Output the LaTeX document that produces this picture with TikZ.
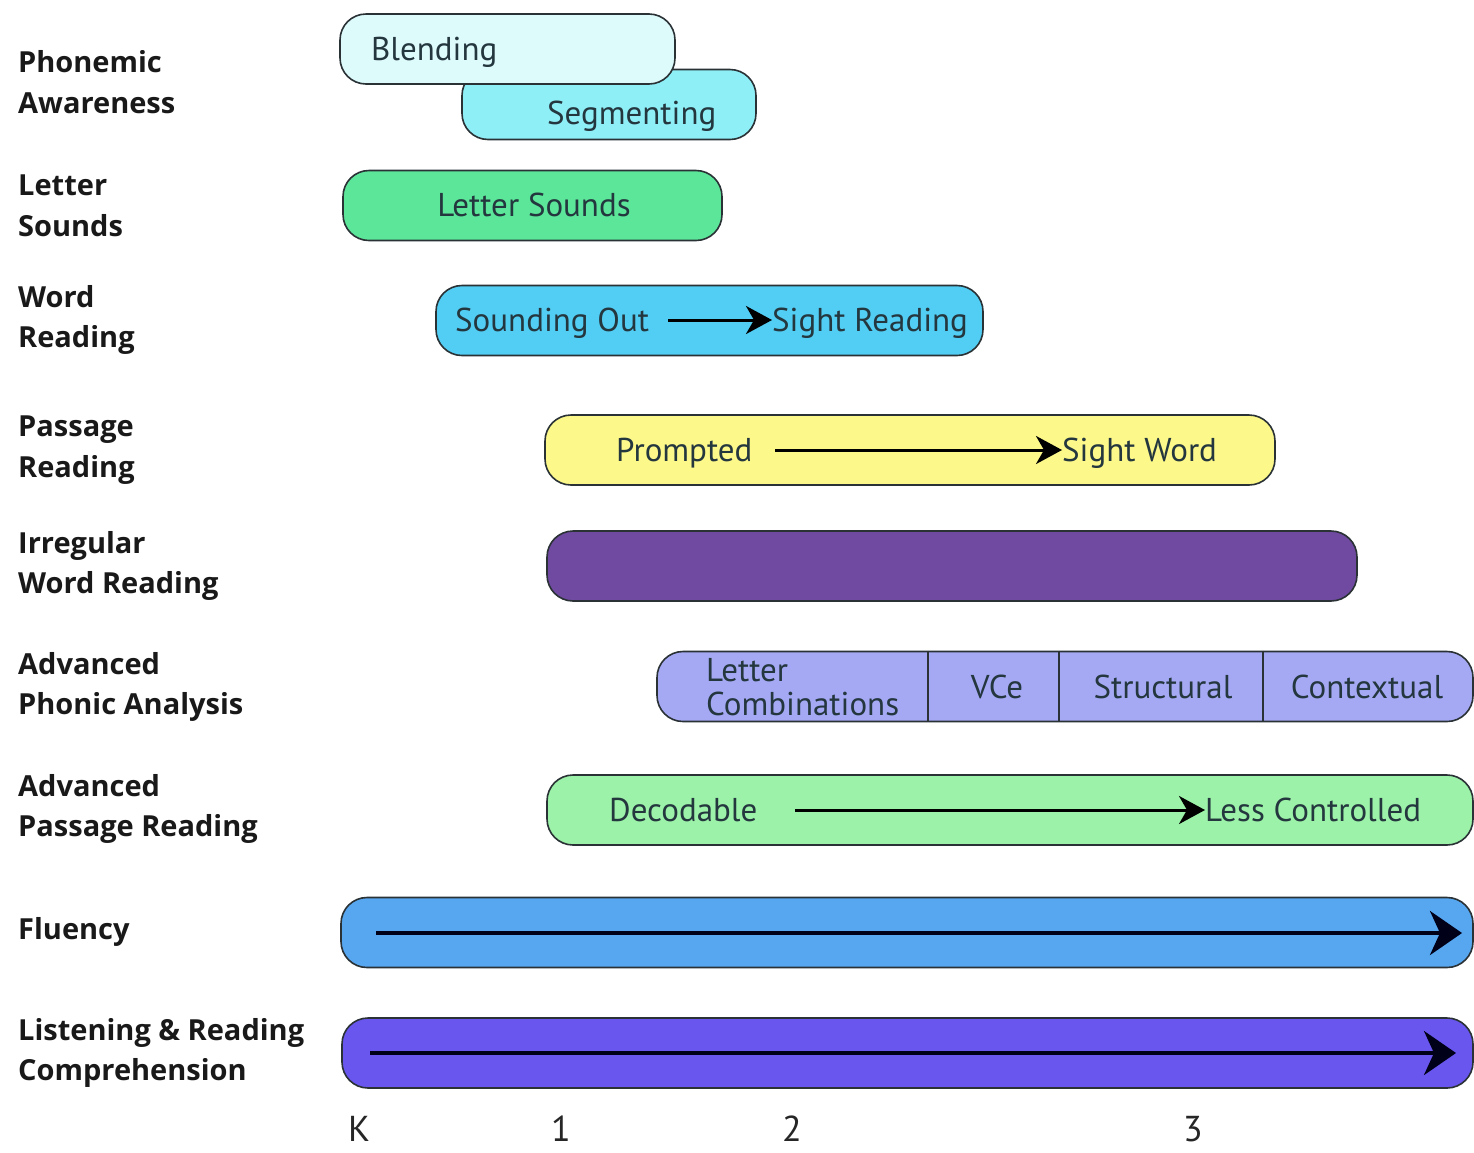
\documentclass[tikz,border=0pt]{standalone}
\usepackage{fontspec}
\setmainfont{PT Sans}
\newfontfamily\labfont{Open Sans}
\usetikzlibrary{arrows.meta}
\definecolor{cBlend}{HTML}{DEFBFC}
\definecolor{cSeg}{HTML}{8FEFF7}
\definecolor{cLS}{HTML}{5CE69A}
\definecolor{cWR}{HTML}{52CDF3}
\definecolor{cPR}{HTML}{FCF88A}
\definecolor{cIR}{HTML}{6F4AA0}
\definecolor{cAPA}{HTML}{A5A9F4}
\definecolor{cAPR}{HTML}{9CF2A8}
\definecolor{cFL}{HTML}{56A6F0}
\definecolor{cLC}{HTML}{6856EF}
\definecolor{cTxt}{HTML}{24363E}
\definecolor{cEdge}{HTML}{2A3236}
\tikzset{
  bar/.style={draw=cEdge, line width=1.6pt, rounded corners=26pt, minimum height=70pt, inner sep=0pt},
  btext/.style={font=\fontsize{33}{35}\selectfont, text=cTxt, inner sep=0pt, anchor=base west},
  rowlab/.style={font=\labfont\bfseries\fontsize{29}{40.5}\selectfont, align=left, anchor=west, inner sep=0pt, text=black!90},
  axlab/.style={font=\fontsize{36}{38}\selectfont, text=black!85, inner sep=0pt, anchor=base},
  arr/.style={line width=3pt, -{Stealth[length=26pt,width=28pt,inset=8pt]}},
  bigarr/.style={line width=4pt, -{Stealth[length=32pt,width=44pt,inset=10pt]}, draw=black!90!blue}
}
\begin{document}
\begin{tikzpicture}[x=1pt,y=-1pt]
\useasboundingbox[fill=white] (0,0) rectangle (1474,1152);

% row labels
\node[rowlab] (l1) at (18,82) {Phonemic\\Awareness};
\node[rowlab] (l2) at (18,206) {Letter\\Sounds};
\node[rowlab] (l3) at (18,320) {Word\\Reading};
\node[rowlab] (l4) at (18,450) {Passage\\Reading};
\node[rowlab] (l5) at (18,566) {Irregular\\Word Reading};
\node[rowlab] (l6) at (18,687) {Advanced\\Phonic Analysis};
\node[rowlab] (l7) at (18,809) {Advanced\\Passage Reading};
\node[rowlab] (l8) at (18,932) {Fluency};
\node[rowlab] (l9) at (18,1053) {Listening \& Reading\\Comprehension};

% Phonemic awareness
\node[bar, fill=cSeg, minimum width=294pt] (seg) at (609,104.5) {};
\node[bar, fill=cBlend, minimum width=335pt] (blend) at (507.5,49) {};
\node[btext] (tblend) at (371,60) {Blending};
\node[btext] (tseg) at (547,124) {Segmenting};

% Letter sounds
\node[bar, fill=cLS, minimum width=379pt] (ls) at (532.5,205.5) {};
\node[btext, anchor=base] (tls) at (534,216) {Letter Sounds};

% Word reading
\node[bar, fill=cWR, minimum width=547pt] (wr) at (709.5,320.5) {};
\node[btext] (tso) at (455,331) {Sounding Out};
\node[btext] (tsr) at (772,331) {Sight Reading};
\draw[arr] (668,320) -- (tsr.west |- 0,320);

% Passage reading
\node[bar, fill=cPR, minimum width=730pt] (pr) at (910,450) {};
\node[btext] (tpr) at (616,461) {Prompted};
\node[btext] (tsw) at (1062,461) {Sight Word};
\draw[arr] (775,450) -- (tsw.west |- 0,450);

% Irregular word reading
\node[bar, fill=cIR, minimum width=810pt] (ir) at (952,566) {};

% Advanced phonic analysis
\node[bar, fill=cAPA, minimum width=816pt] (apa) at (1065,686.5) {};
\draw[draw=cEdge, line width=1.6pt] (apa.north -| 928,0) -- (apa.south -| 928,0);
\draw[draw=cEdge, line width=1.6pt] (apa.north -| 1059,0) -- (apa.south -| 1059,0);
\draw[draw=cEdge, line width=1.6pt] (apa.north -| 1263,0) -- (apa.south -| 1263,0);
\node[font=\fontsize{33}{34}\selectfont, text=cTxt, align=left, anchor=west, inner sep=0pt] (tlc) at (706,687) {Letter\\Combinations};
\node[btext, anchor=base] (tvce) at (997,698) {VCe};
\node[btext, anchor=base] (tstr) at (1163,698) {Structural};
\node[btext, anchor=base] (tctx) at (1367,698) {Contextual};

% Advanced passage reading
\node[bar, fill=cAPR, minimum width=926pt] (apr) at (1010,810) {};
\node[btext] (tdec) at (609,821) {Decodable};
\node[btext] (tlcn) at (1205,821) {Less Controlled};
\draw[arr] (795,810) -- (tlcn.west |- 0,810);

% Fluency
\node[bar, fill=cFL, minimum width=1132pt] (fl) at (907,932.5) {};
\coordinate (fls) at (376,933);
\coordinate (fle) at (1462,933);
\draw[bigarr] (fls) -- (fle);

% Comprehension
\node[bar, fill=cLC, minimum width=1131pt] (lc) at (907.5,1053) {};
\coordinate (lcs) at (370,1053);
\coordinate (lce) at (1456,1053);
\draw[bigarr] (lcs) -- (lce);

% axis
\node[axlab] (ak) at (359,1141) {K};
\node[axlab] (a1) at (561,1141) {1};
\node[axlab] (a2) at (792,1141) {2};
\node[axlab] (a3) at (1193,1141) {3};
\end{tikzpicture}
\end{document}
